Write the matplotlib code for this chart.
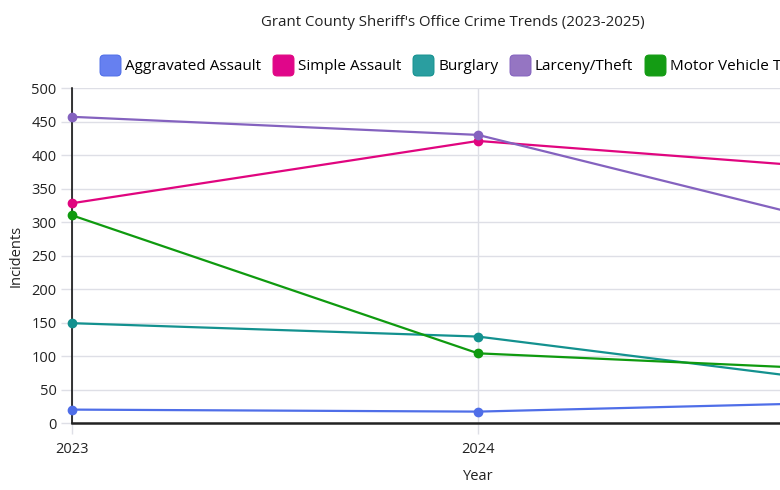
import numpy as np
import matplotlib
matplotlib.use("Agg")
from matplotlib import pyplot as plt
from matplotlib.path import Path
from matplotlib.lines import Line2D

plt.rcParams['font.family'] = ['Open Sans', 'DejaVu Sans']

# Data (2025 is past the right edge of the picture)
years = [2023, 2024, 2025]
series_names = ['Aggravated Assault', 'Simple Assault', 'Burglary',
                'Larceny/Theft', 'Motor Vehicle Theft']
aggravated = [20, 17, 32]
simple = [328, 421, 375]
burglary = [149, 129, 53]
larceny = [457, 430, 280]
motor = [310, 104, 77]

line_colors = ['#4f6ee8', '#e0057f', '#13918f', '#8462bf', '#0f9a0f']
fill_colors = ['#6680f0', '#e0068a', '#2a9ea0', '#9575c2', '#149c14']

series = [aggravated, simple, burglary, larceny, motor]


def rounded_square(r=0.4):
    # rounded square marker path, unit box -1..1
    k = 1 - r
    verts = [(-k, -1), (k, -1), (1, -1), (1, -k), (1, k), (1, 1), (k, 1),
             (-k, 1), (-1, 1), (-1, k), (-1, -k), (-1, -1), (-k, -1), (-k, -1)]
    codes = [Path.MOVETO, Path.LINETO, Path.CURVE3, Path.CURVE3, Path.LINETO,
             Path.CURVE3, Path.CURVE3, Path.LINETO, Path.CURVE3, Path.CURVE3,
             Path.LINETO, Path.CURVE3, Path.CURVE3, Path.CLOSEPOLY]
    return Path(verts, codes)


fig = plt.figure(figsize=(7.8, 4.9), dpi=100)
ax = fig.add_axes([72 / 780, 1 - 423 / 490, (884 - 72) / 780, (423 - 88) / 490])

for name, vals, lc in zip(series_names, series, line_colors):
    ax.plot(years, vals, color=lc, lw=1.6, marker='o', markersize=6,
            label=name, clip_on=False, zorder=3)

ax.set_xlim(2023, 2025)
ax.set_ylim(0, 500)
ax.set_yticks(np.arange(0, 501, 50))
# the 2025 tick sits beyond the visible edge, so only the first two are shown
ax.set_xticks(years[:2])
ax.grid(True, color='#dedfe6', lw=1)
ax.set_axisbelow(True)
for s in ['top', 'right']:
    ax.spines[s].set_visible(False)
ax.spines['left'].set_color('black')
ax.spines['left'].set_linewidth(1.1)
ax.spines['bottom'].set_color('#222222')
ax.spines['bottom'].set_linewidth(1.8)
ax.tick_params(axis='both', colors='#dedfe6', labelcolor='#222222',
               labelsize=10.5, length=8, width=1)
ax.tick_params(axis='y', pad=3)
ax.tick_params(axis='x', pad=6)
ax.set_xlabel('Year', fontsize=10.5, color='#222222', labelpad=8)
ax.set_ylabel('Incidents', fontsize=10.5, color='#222222', labelpad=6)

handles = [Line2D([], [], linestyle='none', marker=rounded_square(),
                  markersize=15, markerfacecolor=fc, markeredgecolor=lc,
                  markeredgewidth=0.8)
           for fc, lc in zip(fill_colors, line_colors)]
fig.legend(handles, series_names, loc='center', ncol=5,
           bbox_to_anchor=(455 / 780, 1 - 67 / 490), frameon=False,
           fontsize=11, handlelength=1.3, handletextpad=0.35,
           columnspacing=0.75, borderaxespad=0)

fig.text(453 / 780, 1 - 22 / 490,
         "Grant County Sheriff's Office Crime Trends (2023-2025)",
         ha='center', va='center', fontsize=10.8, color='#222222')

fig.savefig('out.png', dpi=100)
